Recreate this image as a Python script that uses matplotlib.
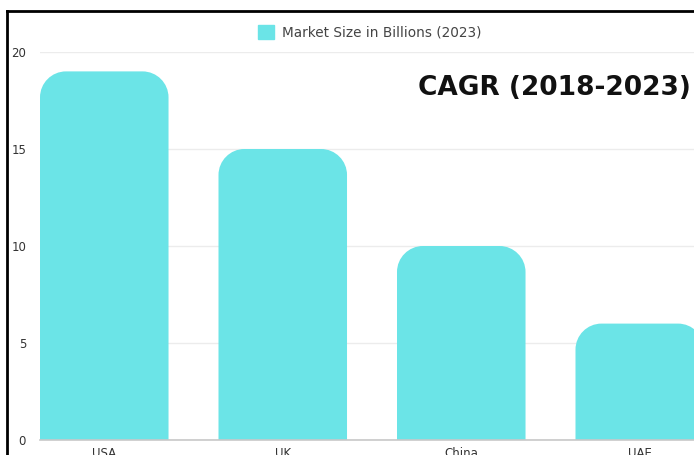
import matplotlib
matplotlib.use("Agg")
import matplotlib.pyplot as plt
from matplotlib.path import Path
from matplotlib.patches import PathPatch, Rectangle
from matplotlib.lines import Line2D

paises = ["USA", "UK", "China", "UAE"]
mercado = [19, 15, 10, 6]
yticks = [0, 5, 10, 15, 20]

COR = "#6be4e7"
W, H = 694, 455

plt.rcParams["font.family"] = ["DejaVu Sans"]

fig = plt.figure(figsize=(W / 100, H / 100), dpi=100)
ax = fig.add_axes([40 / W, 15 / H, 654 / W, 388 / H])

largura = 0.72
ax.set_xlim(-largura / 2, -largura / 2 + 654 / 178.5)
ax.set_ylim(0, 20)

# barras normais só para posicionar; o desenho é feito com topo arredondado
barras = ax.bar(range(len(paises)), mercado, width=largura, color=COR, alpha=0)

px_x = ax.bbox.width / (ax.get_xlim()[1] - ax.get_xlim()[0])
px_y = ax.bbox.height / (ax.get_ylim()[1] - ax.get_ylim()[0])
raio = 26
rx, ry = raio / px_x, raio / px_y
k = 0.5523


def topo_arredondado(x0, w, h):
    verts = [
        (x0, 0), (x0, h - ry),
        (x0, h - ry + k * ry), (x0 + rx - k * rx, h), (x0 + rx, h),
        (x0 + w - rx, h),
        (x0 + w - rx + k * rx, h), (x0 + w, h - ry + k * ry), (x0 + w, h - ry),
        (x0 + w, 0), (x0, 0),
    ]
    codes = [Path.MOVETO, Path.LINETO,
             Path.CURVE4, Path.CURVE4, Path.CURVE4,
             Path.LINETO,
             Path.CURVE4, Path.CURVE4, Path.CURVE4,
             Path.LINETO, Path.CLOSEPOLY]
    return Path(verts, codes)


for b in barras:
    p = topo_arredondado(b.get_x(), b.get_width(), b.get_height())
    ax.add_patch(PathPatch(p, facecolor=COR, edgecolor="none", zorder=2))

ax.set_yticks(yticks)
ax.set_xticks(range(len(paises)))
ax.set_xticklabels(paises)
ax.tick_params(axis="both", length=0, labelsize=8.5, colors="#333333")
ax.tick_params(axis="y", pad=10)
ax.tick_params(axis="x", pad=5)
ax.grid(axis="y", color="#ececec", linewidth=1, zorder=0)
ax.set_axisbelow(True)
for lado in ["top", "right", "left"]:
    ax.spines[lado].set_visible(False)
ax.spines["bottom"].set_color("#c8c8c8")
ax.spines["bottom"].set_linewidth(1.2)

# legenda
fig.patches.append(Rectangle((258 / W, 1 - 39 / H), 16 / W, 14 / H,
                             transform=fig.transFigure, color=COR))
fig.text(282 / W, 1 - 32 / H, "Market Size in Billions (2023)",
         fontsize=9.8, color="#444444", va="center", ha="left")

fig.text(418 / W, 1 - 88 / H, "CAGR (2018-2023)", fontsize=19,
         fontweight="bold", color="#111111", va="center", ha="left")

# moldura preta (topo e esquerda)
fig.add_artist(Line2D([7 / W, 1], [1 - 11 / H, 1 - 11 / H],
                      transform=fig.transFigure, color="black", lw=2))
fig.add_artist(Line2D([7 / W, 7 / W], [0, 1 - 11 / H],
                      transform=fig.transFigure, color="black", lw=2))

fig.savefig("out.png", dpi=100)
